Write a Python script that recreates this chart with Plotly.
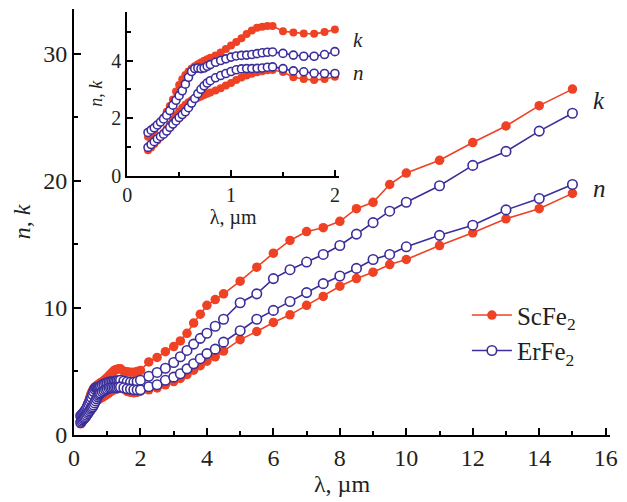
import plotly.graph_objects as go

# Wavelength grid, um (dense in the visible/near-IR, sparse further out)
lam = [0.20, 0.23, 0.26, 0.29, 0.32, 0.35, 0.38, 0.41, 0.44, 0.47, 0.50, 0.53,
       0.56, 0.59, 0.62, 0.65, 0.68, 0.71, 0.74, 0.77, 0.80, 0.85, 0.90, 0.95,
       1.00, 1.05, 1.10, 1.15, 1.20, 1.25, 1.30, 1.35, 1.40,
       1.5, 1.6, 1.7, 1.8, 1.9, 2.0,
       2.25, 2.5, 2.75, 3.0, 3.2, 3.4, 3.6, 3.8, 4.0, 4.25, 4.5,
       5.0, 5.5, 6.0, 6.5, 7.0, 7.5, 8.0, 8.5, 9.0, 9.5,
       10, 11, 12, 13, 14, 15]

# ScFe2 optical constants
sc_k = [1.35, 1.45, 1.58, 1.72, 1.86, 2.02, 2.22, 2.42, 2.65, 2.92, 3.15, 3.35,
        3.50, 3.62, 3.72, 3.80, 3.87, 3.93, 3.99, 4.05, 4.10, 4.18, 4.28, 4.40,
        4.52, 4.65, 4.78, 4.92, 5.05, 5.14, 5.18, 5.20, 5.20,
        5.02, 4.98, 4.94, 4.93, 4.99, 5.08,
        5.75, 6.1, 6.55, 6.95, 7.4, 8.0, 8.8, 9.5, 10.2, 10.65, 11.1,
        12.1, 13.2, 14.3, 15.3, 16.0, 16.3, 16.8, 17.8, 18.3, 19.7,
        20.6, 21.6, 23.0, 24.3, 25.9, 27.2]
sc_n = [0.88, 0.98, 1.10, 1.22, 1.34, 1.48, 1.62, 1.78, 1.94, 2.10, 2.24, 2.36,
        2.46, 2.55, 2.62, 2.67, 2.71, 2.75, 2.80, 2.85, 2.89, 2.96, 3.04, 3.13,
        3.22, 3.32, 3.41, 3.48, 3.54, 3.59, 3.63, 3.66, 3.67,
        3.60, 3.42, 3.36, 3.32, 3.36, 3.44,
        3.55, 3.7, 3.95, 4.2, 4.45, 4.75, 5.1, 5.45, 5.8, 6.15, 6.6,
        7.5, 8.14, 8.85, 9.45, 10.2, 10.9, 11.7, 12.3, 12.8, 13.4,
        13.8, 14.9, 15.9, 17.0, 17.8, 19.0]

# ErFe2 optical constants
er_k = [1.50, 1.58, 1.66, 1.76, 1.86, 1.97, 2.10, 2.26, 2.45, 2.62, 2.78, 2.95,
        3.18, 3.42, 3.62, 3.72, 3.74, 3.72, 3.74, 3.80, 3.86, 3.94, 4.00, 4.06,
        4.12, 4.16, 4.18, 4.19, 4.21, 4.24, 4.27, 4.29, 4.30,
        4.25, 4.19, 4.15, 4.15, 4.21, 4.31,
        4.62, 4.92, 5.25, 5.7, 6.15, 6.65, 7.15, 7.6, 8.0, 8.55, 9.1,
        10.4, 11.1, 12.3, 13.0, 13.6, 14.2, 14.9, 15.8, 16.7, 17.6,
        18.3, 19.6, 21.2, 22.3, 23.9, 25.3]
er_n = [0.98, 1.08, 1.18, 1.28, 1.36, 1.44, 1.55, 1.68, 1.79, 1.90, 2.02, 2.12,
        2.22, 2.36, 2.52, 2.68, 2.85, 3.00, 3.12, 3.22, 3.30, 3.40, 3.48, 3.55,
        3.62, 3.68, 3.71, 3.72, 3.72, 3.73, 3.74, 3.77, 3.78,
        3.72, 3.64, 3.61, 3.56, 3.55, 3.55,
        3.8, 3.95, 4.3, 4.55, 4.82, 5.2, 5.6, 6.0, 6.4, 6.75, 7.3,
        8.2, 9.1, 9.8, 10.5, 11.2, 11.9, 12.5, 13.1, 13.8, 14.2,
        14.8, 15.7, 16.5, 17.7, 18.6, 19.7]

RED = "#EF4124"
BLUE = "#3B2E9B"
FONT = "Liberation Serif"
TEXT = "#231F20"

# points shown in the inset (lambda <= 2 um)
n_in = sum(1 for v in lam if v <= 2.0)

fig = go.Figure()


def add_series(x, y, color, filled, size, xa, ya, name=None, show=False):
    fig.add_trace(go.Scatter(
        x=x, y=y, mode="lines+markers", name=name, showlegend=show,
        xaxis=xa, yaxis=ya, cliponaxis=False,
        line=dict(color=color, width=1.6),
        marker=dict(symbol="circle", size=size,
                    color=color if filled else "white",
                    line=dict(color=color, width=0 if filled else 1.6)),
    ))


# main panel
add_series(lam, sc_k, RED, True, 9.5, "x", "y", "ScFe<sub>2</sub>", True)
add_series(lam, sc_n, RED, True, 9.5, "x", "y")
add_series(lam, er_k, BLUE, False, 9.5, "x", "y", "ErFe<sub>2</sub>", True)
add_series(lam, er_n, BLUE, False, 9.5, "x", "y")

# inset
add_series(lam[:n_in], sc_k[:n_in], RED, True, 8, "x2", "y2")
add_series(lam[:n_in], sc_n[:n_in], RED, True, 8, "x2", "y2")
add_series(lam[:n_in], er_k[:n_in], BLUE, False, 8, "x2", "y2")
add_series(lam[:n_in], er_n[:n_in], BLUE, False, 8, "x2", "y2")

axis_common = dict(showline=True, linecolor="black", linewidth=2,
                   ticks="inside", tickcolor="black", tickwidth=1.5,
                   showgrid=False, zeroline=False, mirror=False)

fig.update_layout(
    width=627, height=502,
    margin=dict(l=74, r=9, t=9, b=67),
    paper_bgcolor="white", plot_bgcolor="white",
    font=dict(family=FONT, size=23, color=TEXT),
    xaxis=dict(**axis_common, range=[0, 16.13], tick0=0, dtick=2, ticklen=7,
               minor=dict(ticks="inside", dtick=1, ticklen=4, tickcolor="black", tickwidth=1.5),
               tickfont=dict(size=24),
               title=dict(text="λ, µm", font=dict(size=24), standoff=0)),
    yaxis=dict(**axis_common, range=[0, 33.5], tick0=0, dtick=10, ticklen=7,
               minor=dict(ticks="inside", dtick=5, ticklen=4, tickcolor="black", tickwidth=1.5),
               tickfont=dict(size=24),
               title=dict(text="<i>n</i>, <i>k</i>", font=dict(size=24), standoff=6)),
    xaxis2=dict(**axis_common, domain=[0.0993, 0.4945], anchor="y2",
                range=[0, 2.04], tick0=0, dtick=1, ticklen=6,
                minor=dict(ticks="inside", dtick=0.5, ticklen=4, tickcolor="black", tickwidth=1.5),
                tickfont=dict(size=20),
                title=dict(text="λ, µm", font=dict(size=20), standoff=0)),
    yaxis2=dict(**axis_common, domain=[0.609, 0.993], anchor="x2",
                range=[0, 5.69], tick0=0, dtick=2, ticklen=6,
                minor=dict(ticks="inside", dtick=1, ticklen=4, tickcolor="black", tickwidth=1.5),
                tickfont=dict(size=20),
                title=dict(text="<i>n</i>, <i>k</i>", font=dict(size=18), standoff=4)),
    legend=dict(x=0.733, y=0.335, xanchor="left", yanchor="top",
                bgcolor="rgba(0,0,0,0)", font=dict(size=25),
                tracegroupgap=0, itemwidth=40),
    annotations=[
        dict(x=15.55, y=26.3, xref="x", yref="y", text="<i>k</i>", showarrow=False,
             xanchor="left", font=dict(size=25)),
        dict(x=15.55, y=19.4, xref="x", yref="y", text="<i>n</i>", showarrow=False,
             xanchor="left", font=dict(size=25)),
        dict(x=0.516, y=0.927, xref="paper", yref="paper", text="<i>k</i>", showarrow=False,
             xanchor="left", yanchor="middle", font=dict(size=21)),
        dict(x=0.516, y=0.85, xref="paper", yref="paper", text="<i>n</i>", showarrow=False,
             xanchor="left", yanchor="middle", font=dict(size=21)),
    ],
)

fig.write_html("out.html")
